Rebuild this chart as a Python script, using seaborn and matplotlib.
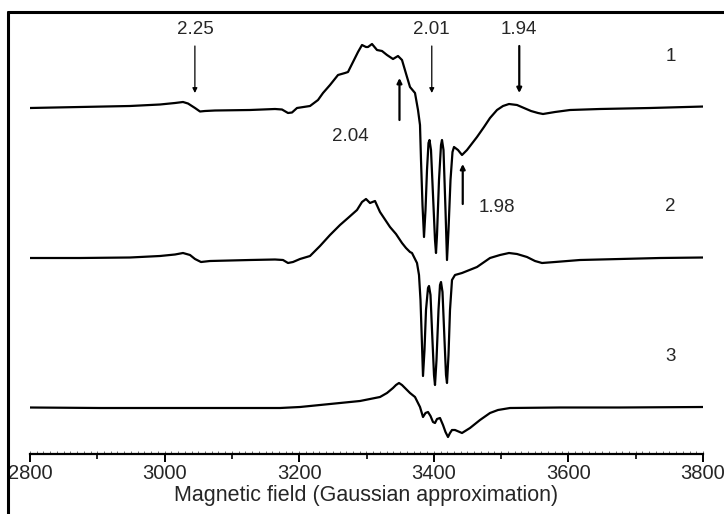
import numpy as np
import pandas as pd
import seaborn as sns
import matplotlib.pyplot as plt
from matplotlib.lines import Line2D
from matplotlib.ticker import MultipleLocator

# ---------------- data ----------------
# readings taken at picture x-pixels (converted to field in G below); y readings in picture pixels
px_1 = [30, 80, 130, 160, 175, 183, 188, 195, 200, 205, 215, 250, 275, 282, 288, 292, 297, 310, 318, 323, 330, 338,
        345, 348, 353, 358, 362, 366, 368, 372, 377, 382, 387, 393, 398, 402, 407, 410, 415, 418, 420, 421, 422.5,
        424, 425.5, 427, 428.5, 429.5, 431, 433, 435, 436, 437, 439, 441, 442, 443.5, 445.5, 447, 448.5, 450.5,
        452.5, 454, 458, 462, 467, 477, 484, 490, 497, 503, 509, 517, 524, 531, 538, 543, 555, 570, 600, 650, 704]
y_1 = [108, 107, 106, 104.5, 103, 102, 103.5, 108, 111.5, 111, 110.5, 110, 109, 109.5, 113, 112.5, 108, 106, 100, 93,
       85, 75, 73, 72, 62, 52, 45, 47, 47, 44, 50, 51, 55, 59, 56, 60, 77, 87, 93, 110, 125, 160, 205,
       237, 210, 170, 143, 140, 150, 195, 240, 253, 235, 180, 145, 140, 150, 210, 260, 230, 180,
       152, 147, 150, 155, 150, 137, 127, 118, 110, 106, 104, 105, 108, 111, 113, 114, 112, 110, 109, 108, 106.5]

px_2 = [30, 80, 130, 160, 175, 183, 190, 195, 201, 210, 250, 275, 283, 288, 293, 300, 310, 320, 330, 340, 348, 357,
        362, 366, 370, 375, 380, 390, 396, 402, 406, 410, 412, 417, 419, 420.5, 422, 423, 424.5, 426, 428, 429,
        430.5, 432, 434, 435, 436.5, 438.5, 440, 441, 442.5, 444.5, 446, 447, 448.5, 450, 452, 455, 462, 477, 490,
        500, 509, 517, 527, 535, 542, 555, 580, 620, 660, 704]
y_2 = [258, 258, 257.5, 256, 254.5, 253, 255, 259, 262, 261, 260, 259.5, 260, 263, 262, 259, 256, 246, 235, 225, 218, 210,
       202, 199, 203, 201, 212, 227, 234, 243, 248, 252, 253, 263, 275, 300, 345, 376, 350, 310, 288, 286,
       295, 330, 375, 385, 360, 310, 285, 282, 292, 340, 375, 383, 355, 310, 280, 275, 273, 267, 258,
       255, 253, 254, 257, 261, 263, 262, 260, 259, 258, 257.5]

px_3 = [30, 100, 200, 280, 300, 320, 340, 360, 380, 387, 393, 396, 399, 402, 405, 410, 415, 420, 423, 425.5, 428,
        430.5, 433, 435, 437, 440, 443, 445.5, 448, 450, 452, 455, 462, 470, 480, 490, 498, 510, 560, 620, 704]
y_3 = [407.5, 408, 408, 408, 407, 405, 403, 401, 397, 393, 388, 385, 383, 385, 388, 393, 397, 407, 417, 413, 412,
       416, 422, 423, 419, 418, 425, 432, 437, 433, 430, 430, 433, 428, 420, 413, 410, 408, 407.5, 407.5, 407]

field_1 = [2800 + (p - 30) / 0.673 for p in px_1]
field_2 = [2800 + (p - 30) / 0.673 for p in px_2]
field_3 = [2800 + (p - 30) / 0.673 for p in px_3]
signal_1 = [108 - v for v in y_1]
signal_2 = [258 - v for v in y_2]
signal_3 = [408 - v for v in y_3]

trace_labels = ["1", "2", "3"]
g_labels = ["2.25", "2.01", "1.94", "2.04", "1.98"]
g_fields = [3045, 3397, 3527, 3349, 3443]

# ---------------- figure ----------------
sns.set_theme(style="white")
plt.rcParams['font.family'] = ['Liberation Sans', 'DejaVu Sans']

W, H = 724, 514
fig = plt.figure(figsize=(W / 100, H / 100), dpi=100)
ax_bottom_px, ax_top_px = 454, 12
ax = fig.add_axes([30 / W, 1 - ax_bottom_px / H, (703 - 30) / W, (ax_bottom_px - ax_top_px) / H])
ax.set_facecolor('none')

def ypx(p):
    return ax_bottom_px - p

offsets = [ypx(108), ypx(258), ypx(408)]
for f, s, off in zip([field_1, field_2, field_3], [signal_1, signal_2, signal_3], offsets):
    df = pd.DataFrame({"field": f, "y": np.array(s) + off})
    sns.lineplot(data=df, x="field", y="y", ax=ax, color="black", lw=1.6, sort=False, estimator=None)

ax.set_xlim(2800, 3800)
ax.set_ylim(0, ax_bottom_px - ax_top_px)
for sp in ["top", "right", "left"]:
    ax.spines[sp].set_visible(False)
ax.spines["bottom"].set_linewidth(1.6)
ax.spines["bottom"].set_color("black")
ax.set_yticks([])
ax.xaxis.set_major_locator(MultipleLocator(200))
ax.xaxis.set_minor_locator(MultipleLocator(100))
ax.tick_params(axis="x", which="major", direction="out", length=6, width=1.4, color="black",
               bottom=True, labelsize=14.5, pad=1)
ax.tick_params(axis="x", which="minor", direction="out", length=3.5, width=1.2, color="black", bottom=True)
ax.set_xlabel("Magnetic field (Gaussian approximation)", fontsize=15.5, labelpad=2)
ax.set_ylabel("")

sec = ax.secondary_xaxis(0)
sec.xaxis.set_major_locator(MultipleLocator(10))
sec.tick_params(axis="x", direction="in", length=2, width=0.6, color="#555555", labelbottom=False)
sec.spines["bottom"].set_visible(False)

# g-value annotations
fs = 13.5
for lab, g, lw in zip(g_labels[:3], g_fields[:3], [0.9, 0.9, 1.6]):
    ax.annotate("", xy=(g, ypx(93)), xytext=(g, ypx(46)),
                arrowprops=dict(arrowstyle="-|>", color="black", lw=lw, mutation_scale=7, shrinkA=0, shrinkB=0))
    ax.text(g, ypx(30), lab, ha="center", va="center", fontsize=fs)
ax.annotate("", xy=(g_fields[3], ypx(78)), xytext=(g_fields[3], ypx(120)),
            arrowprops=dict(arrowstyle="-|>", color="black", lw=1.6, mutation_scale=7, shrinkA=0, shrinkB=0))
ax.text(3276, ypx(137), g_labels[3], ha="center", va="center", fontsize=fs)
ax.annotate("", xy=(g_fields[4], ypx(164)), xytext=(g_fields[4], ypx(204)),
            arrowprops=dict(arrowstyle="-|>", color="black", lw=1.6, mutation_scale=7, shrinkA=0, shrinkB=0))
ax.text(3493, ypx(208), g_labels[4], ha="center", va="center", fontsize=fs)

for lab, ypos in zip(trace_labels, [57, 207, 357]):
    ax.text(3752, ypx(ypos), lab, ha="center", va="center", fontsize=fs)

# outer frame (top and left edges)
fig.add_artist(Line2D([8 / W, 1.0], [1 - 12 / H, 1 - 12 / H], color="black", lw=2.2, transform=fig.transFigure))
fig.add_artist(Line2D([8 / W, 8 / W], [0, 1 - 12 / H], color="black", lw=2.2, transform=fig.transFigure))

fig.savefig("out.png", dpi=100, facecolor="white")
